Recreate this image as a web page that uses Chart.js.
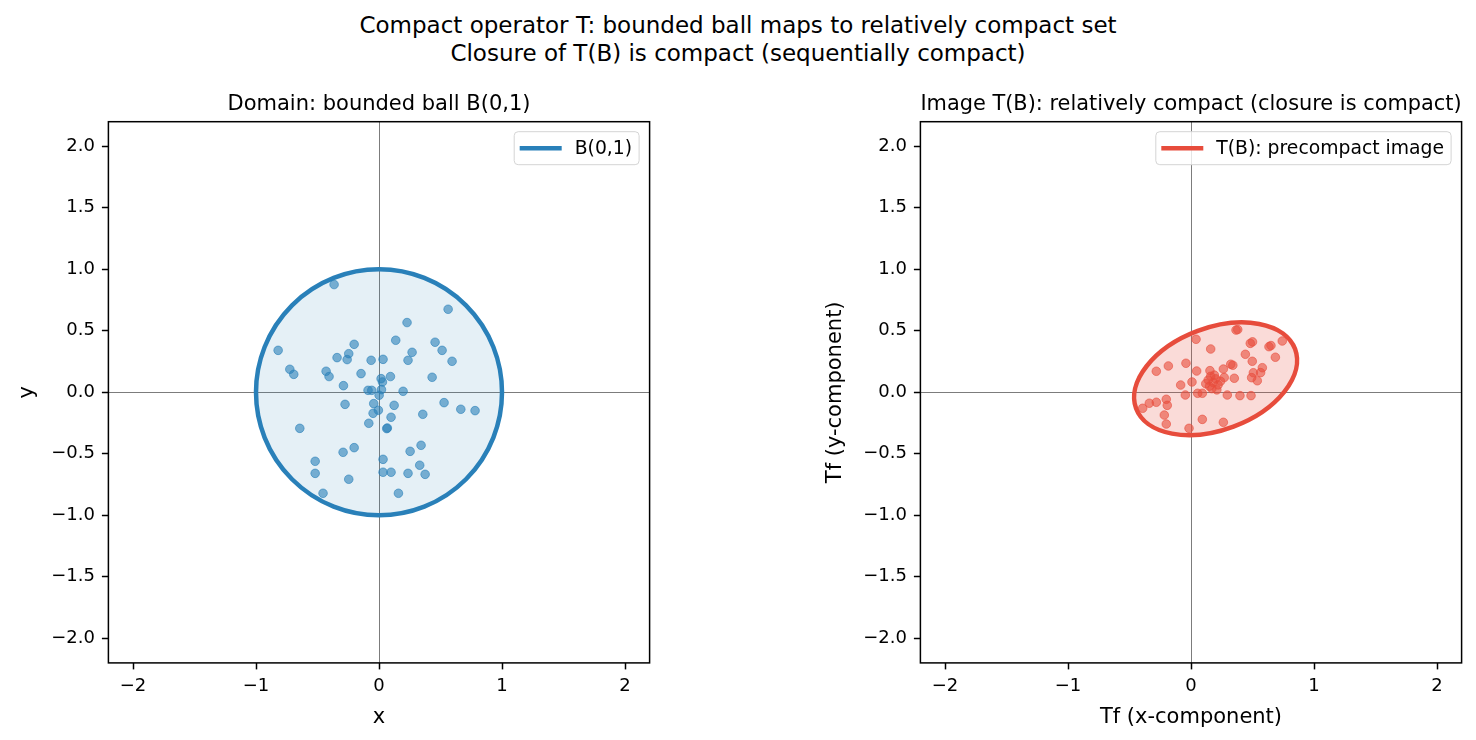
<!DOCTYPE html>
<html><head><meta charset="utf-8">
<script src="https://cdn.jsdelivr.net/npm/chart.js@4/dist/chart.umd.min.js"></script>
<style>
html,body{margin:0;padding:0;background:#fff;width:1476px;height:740px;overflow:hidden;}
#sup{position:absolute;left:0;top:11px;width:1476px;text-align:center;font-family:'DejaVu Sans';font-size:23px;line-height:28px;color:#000;}
#c1{position:absolute;left:0;top:80px;}
#c2{position:absolute;left:810px;top:80px;}
</style></head><body>
<div id="sup">Compact operator T: bounded ball maps to relatively compact set<br>Closure of T(B) is compact (sequentially compact)</div>
<canvas id="c1" width="680" height="660"></canvas>
<canvas id="c2" width="666" height="660"></canvas>
<script>
// ---- tick labels ----
const xTicks = [-2, -1, 0, 1, 2];
const yTicks = [-2, -1.5, -1, -0.5, 0, 0.5, 1, 1.5, 2];
const axisMin = -2.2, axisMax = 2.2;

// ---- domain samples (left) ----
const domainX = [-0.365,0.562,0.228,-0.82,0.136,0.456,0.513,0.594,0.269,0.236,-0.202,-0.246,-0.341,-0.259,-0.064,0.033,-0.725,-0.693,-0.43,-0.406,-0.146,0.093,0.017,0.028,0.432,-0.289,-0.089,-0.059,0.02,0.196,0.001,
  -0.276,-0.043,0.123,0.529,0.665,0.781,-0.005,-0.048,0.098,0.356,-0.083,-0.644,0.063,0.068,-0.202,-0.292,0.342,0.253,-0.519,0.033,-0.519,0.033,0.098,0.236,0.331,0.375,-0.246,-0.455,0.158];
const domainY = [0.876,0.675,0.567,0.341,0.423,0.407,0.341,0.252,0.325,0.260,0.390,0.314,0.282,0.266,0.260,0.268,0.187,0.146,0.171,0.128,0.152,0.128,0.111,0.084,0.122,0.054,0.016,0.016,0.022,0.008,-0.024,
  -0.098,-0.092,-0.106,-0.084,-0.138,-0.149,-0.146,-0.171,-0.203,-0.179,-0.252,-0.293,-0.295,-0.29,-0.45,-0.488,-0.431,-0.48,-0.561,-0.545,-0.659,-0.65,-0.65,-0.659,-0.593,-0.667,-0.707,-0.821,-0.821];

// ---- image samples (right) ----
const imageX = [0.041,0.160,-0.184,-0.282,-0.041,0.046,0.154,0.008,-0.084,-0.046,0.054,0.092,-0.393,-0.339,-0.282,-0.201,-0.193,-0.217,-0.201,-0.016,0.092,
  0.366,0.38,0.482,0.50,0.634,0.65,0.742,0.686,0.442,0.498,0.323,0.34,0.263,0.352,0.507,0.580,0.566,0.493,0.539,0.295,0.398,0.488,0.263,
  0.14,0.16,0.18,0.20,0.22,0.15,0.19,0.24,0.17,0.12,0.21,0.27];
const imageY = [0.431,0.352,0.214,0.171,0.236,0.173,0.176,0.084,0.059,-0.022,-0.008,-0.008,-0.130,-0.089,-0.081,-0.057,-0.106,-0.185,-0.258,-0.293,-0.220,
  0.506,0.51,0.398,0.41,0.371,0.38,0.417,0.285,0.309,0.252,0.228,0.22,0.189,0.114,0.159,0.200,0.16,0.119,0.094,-0.022,-0.027,-0.027,-0.244,
  0.10,0.13,0.08,0.11,0.06,0.05,0.14,0.09,0.03,0.07,0.02,0.12];

// ---- shapes ----
const ballCenter = [0, 0];
const ballAxes = [1, 1];
const ballAngle = 0;
const imageCenter = [0.20, 0.11];
const imageAxes = [0.69, 0.415];
const imageAngle = 20.5;

const BLUE = '#2980b9', RED = '#e74c3c';
const FONT = 'DejaVu Sans';
const fmtX = v => String(v).replace('-', '\u2212');
const fmtY = v => Number(v).toFixed(1).replace('-', '\u2212');

const shapePlugin = {
  id: 'shape',
  beforeDatasetsDraw(chart, args, o) {
    const {ctx, scales: {x, y}} = chart;
    const cx = x.getPixelForValue(o.center[0]), cy = y.getPixelForValue(o.center[1]);
    const sx = x.getPixelForValue(1) - x.getPixelForValue(0);
    const sy = y.getPixelForValue(0) - y.getPixelForValue(1);
    ctx.save();
    ctx.translate(cx, cy); ctx.scale(sx, -sy); ctx.rotate(o.angle * Math.PI / 180);
    ctx.beginPath(); ctx.ellipse(0, 0, o.axes[0], o.axes[1], 0, 0, Math.PI * 2);
    ctx.restore();
    ctx.save();
    ctx.fillStyle = o.fill; ctx.fill();
    ctx.lineWidth = o.width; ctx.strokeStyle = o.color; ctx.stroke();
    ctx.restore();
  }
};
const framePlugin = {
  id: 'frame',
  afterDraw(chart) {
    const {ctx, chartArea: a} = chart;
    ctx.save(); ctx.strokeStyle = '#000'; ctx.lineWidth = 1.5;
    ctx.strokeRect(a.left, a.top, a.right - a.left, a.bottom - a.top);
    ctx.restore();
  }
};
const boxLegend = {
  id: 'boxLegend',
  afterDraw(chart, args, o) {
    const {ctx, chartArea} = chart;
    ctx.save();
    ctx.font = '18.8px "' + FONT + '"';
    const tw = ctx.measureText(o.text).width;
    const padL = 5.5, lineLen = 42, gap = 13, padR = 7, h = 33;
    const w = padL + lineLen + gap + tw + padR;
    const x = chartArea.right - 10.5 - w, y = chartArea.top + 10;
    ctx.beginPath(); ctx.roundRect(x, y, w, h, 4);
    ctx.fillStyle = 'rgba(255,255,255,0.8)'; ctx.fill();
    ctx.strokeStyle = '#d4d4d4'; ctx.lineWidth = 1; ctx.stroke();
    ctx.beginPath(); ctx.moveTo(x + padL, y + h / 2); ctx.lineTo(x + padL + lineLen, y + h / 2);
    ctx.strokeStyle = o.color; ctx.lineWidth = 4.5; ctx.stroke();
    ctx.fillStyle = '#000'; ctx.textBaseline = 'middle'; ctx.textAlign = 'left';
    ctx.fillText(o.text, x + padL + lineLen + gap, y + h / 2 + 1);
    ctx.restore();
  }
};

function makeChart(id, cfg) {
  const pts = cfg.xs.map((v, i) => ({x: v, y: cfg.ys[i]}));
  const gridColor = c => (c.tick && c.tick.value === 0) ? 'rgba(110,110,110,0.9)' : 'rgba(0,0,0,0)';
  return new Chart(document.getElementById(id), {
    type: 'scatter',
    data: {datasets: [{
      label: cfg.pointLabel, data: pts,
      backgroundColor: cfg.pointColor, borderColor: cfg.pointColor,
      pointRadius: 4.3, borderWidth: 1, pointHoverRadius: 4.3
    }]},
    options: {
      responsive: false, animation: false, events: [],
      devicePixelRatio: 1,
      layout: {padding: {top: 12.4, left: 0, right: cfg.padRight, bottom: 0}},
      scales: {
        x: {
          type: 'linear', min: axisMin, max: axisMax, bounds: 'data',
          afterBuildTicks: s => { s.ticks = xTicks.map(v => ({value: v})); },
          afterFit: s => { s.height = 77.1; },
          border: {display: false},
          grid: {color: gridColor, lineWidth: 1, drawTicks: true, tickLength: 6.5, tickColor: '#000', tickWidth: 1.5},
          ticks: {font: {family: FONT, size: 18}, color: '#000', padding: 6, maxRotation: 0, callback: v => fmtX(v)},
          title: {display: true, text: cfg.xTitle, font: {family: FONT, size: 21}, color: '#000', padding: {top: 0, bottom: 10}}
        },
        y: {
          type: 'linear', min: axisMin, max: axisMax, bounds: 'data',
          afterBuildTicks: s => { s.ticks = yTicks.map(v => ({value: v})); },
          afterFit: s => { s.width = cfg.yWidth; },
          border: {display: false},
          grid: {color: gridColor, lineWidth: 1, drawTicks: true, tickLength: 6.5, tickColor: '#000', tickWidth: 1.5},
          ticks: {font: {family: FONT, size: 18}, color: '#000', padding: 7, callback: v => fmtY(v)},
          title: {display: true, text: cfg.yTitle, font: {family: FONT, size: 21}, color: '#000', padding: {top: cfg.yTitlePad, bottom: 0}}
        }
      },
      plugins: {
        legend: {display: false},
        tooltip: {enabled: false},
        title: {display: true, text: cfg.title, fullSize: false, color: '#000',
                font: {family: FONT, size: 21, weight: 'normal'}, padding: {top: 0, bottom: 4.1}},
        shape: cfg.shape,
        boxLegend: {text: cfg.legendText, color: cfg.shape.color}
      }
    },
    plugins: [shapePlugin, framePlugin, boxLegend]
  });
}

makeChart('c1', {
  xs: domainX, ys: domainY, pointLabel: 'samples in B(0,1)', pointColor: 'rgba(41,128,185,0.6)',
  padRight: 30.4, yWidth: 108.4, yTitlePad: 15.2,
  xTitle: 'x', yTitle: 'y', title: 'Domain: bounded ball B(0,1)', legendText: 'B(0,1)',
  shape: {center: ballCenter, axes: ballAxes, angle: ballAngle, fill: 'rgba(41,128,185,0.12)', color: BLUE, width: 4.5}
});
makeChart('c2', {
  xs: imageX, ys: imageY, pointLabel: 'T(samples)', pointColor: 'rgba(231,76,60,0.6)',
  padRight: 14.4, yWidth: 110.4, yTitlePad: 13.2,
  xTitle: 'Tf (x-component)', yTitle: 'Tf (y-component)', title: 'Image T(B): relatively compact (closure is compact)', legendText: 'T(B): precompact image',
  shape: {center: imageCenter, axes: imageAxes, angle: imageAngle, fill: 'rgba(231,76,60,0.2)', color: RED, width: 4.5}
});
</script>
</body></html>
